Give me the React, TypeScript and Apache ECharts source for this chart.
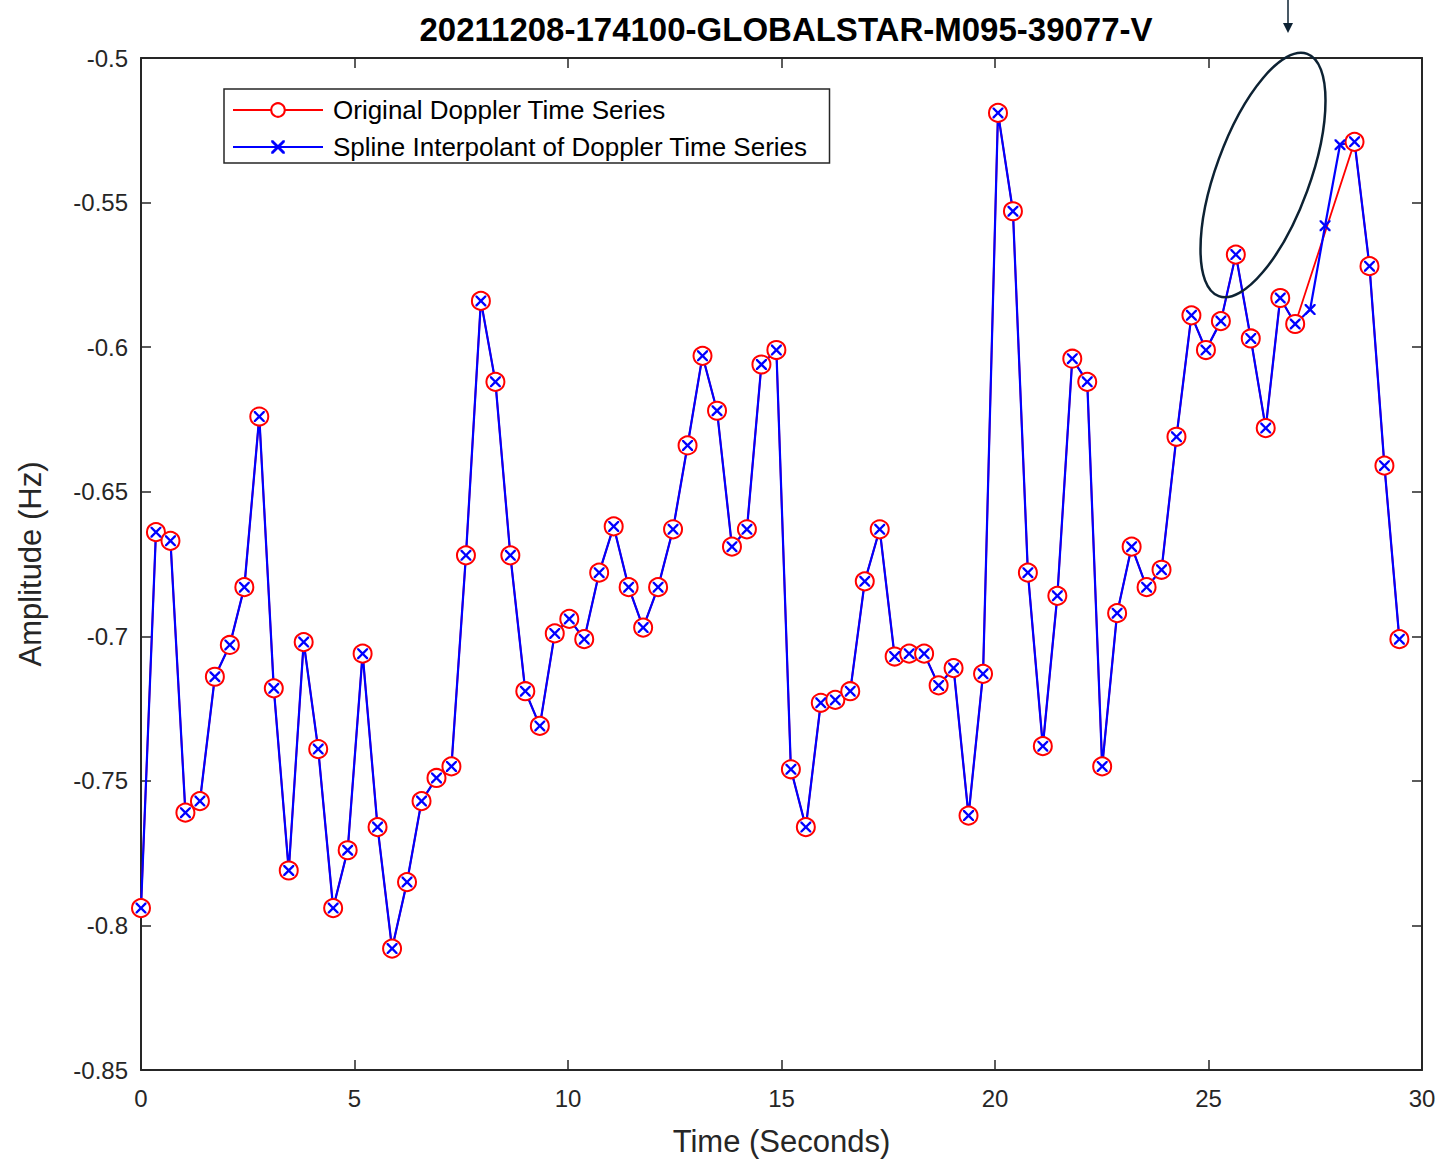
import React, { useEffect, useRef } from "react";
import * as echarts from "echarts";

const FONT = "'Liberation Sans', Arial, Helvetica, sans-serif";

const chartTitle = "20211208-174100-GLOBALSTAR-M095-39077-V";
const xAxisName = "Time (Seconds)";
const yAxisName = "Amplitude (Hz)";
const seriesNames = ["Original Doppler Time Series", "Spline Interpolant of Doppler Time Series"];

const times = [
  0, 0.35, 0.69, 1.04, 1.38, 1.73, 2.08, 2.42, 2.77, 3.11,
  3.46, 3.81, 4.15, 4.5, 4.84, 5.19, 5.54, 5.88, 6.23, 6.57,
  6.92, 7.27, 7.61, 7.96, 8.3, 8.65, 9.0, 9.34, 9.69, 10.03,
  10.38, 10.73, 11.07, 11.42, 11.76, 12.11, 12.46, 12.8, 13.15, 13.49,
  13.84, 14.19, 14.53, 14.88, 15.22, 15.57, 15.92, 16.26, 16.61, 16.95,
  17.3, 17.65, 17.99, 18.34, 18.68, 19.03, 19.38, 19.72, 20.07, 20.42,
  20.77, 21.12, 21.46, 21.81, 22.16, 22.51, 22.86, 23.2, 23.55, 23.9,
  24.25, 24.6, 24.94, 25.29, 25.64, 25.99, 26.34, 26.68, 27.03, 27.38,
  27.73, 28.08, 28.42, 28.77, 29.12, 29.47,
];

const splineValues = [
  -0.794, -0.664, -0.667, -0.761, -0.757, -0.714, -0.703, -0.683, -0.624, -0.718,
  -0.781, -0.702, -0.739, -0.794, -0.774, -0.706, -0.766, -0.808, -0.785, -0.757,
  -0.749, -0.745, -0.672, -0.584, -0.612, -0.672, -0.719, -0.731, -0.699, -0.694,
  -0.701, -0.678, -0.662, -0.683, -0.697, -0.683, -0.663, -0.634, -0.603, -0.622,
  -0.669, -0.663, -0.606, -0.601, -0.746, -0.766, -0.723, -0.722, -0.719, -0.681,
  -0.663, -0.707, -0.706, -0.706, -0.717, -0.711, -0.762, -0.713, -0.519, -0.553,
  -0.678, -0.738, -0.686, -0.604, -0.612, -0.745, -0.692, -0.669, -0.683, -0.677,
  -0.631, -0.589, -0.601, -0.591, -0.568, -0.597, -0.628, -0.583, -0.592, -0.587,
  -0.558, -0.53, -0.529, -0.572, -0.641, -0.701,
];

// null = sample missing from the original series (filled only by the spline)
const originalValues = [
  -0.794, -0.664, -0.667, -0.761, -0.757, -0.714, -0.703, -0.683, -0.624, -0.718,
  -0.781, -0.702, -0.739, -0.794, -0.774, -0.706, -0.766, -0.808, -0.785, -0.757,
  -0.749, -0.745, -0.672, -0.584, -0.612, -0.672, -0.719, -0.731, -0.699, -0.694,
  -0.701, -0.678, -0.662, -0.683, -0.697, -0.683, -0.663, -0.634, -0.603, -0.622,
  -0.669, -0.663, -0.606, -0.601, -0.746, -0.766, -0.723, -0.722, -0.719, -0.681,
  -0.663, -0.707, -0.706, -0.706, -0.717, -0.711, -0.762, -0.713, -0.519, -0.553,
  -0.678, -0.738, -0.686, -0.604, -0.612, -0.745, -0.692, -0.669, -0.683, -0.677,
  -0.631, -0.589, -0.601, -0.591, -0.568, -0.597, -0.628, -0.583, -0.592, null,
  null, null, -0.529, -0.572, -0.641, -0.701,
];

const xTicks = { min: 0, max: 30, interval: 5 };
const yTicks = { min: -0.85, max: -0.5, interval: 0.05 };

const CROSS =
  "path://M0,0 L3,0 L10,7 L17,0 L20,0 L20,3 L13,10 L20,17 L20,20 L17,20 L10,13 L3,20 L0,20 L0,17 L7,10 L0,3 Z";

export default function App() {
  const ref = useRef<HTMLDivElement>(null);

  useEffect(() => {
    document.body.style.margin = "0";
    if (!ref.current) return;
    const chart = echarts.init(ref.current, undefined, { renderer: "svg" });

    const axisColor = "#262626";
    const origData: [number, number][] = [];
    times.forEach((t, i) => {
      if (originalValues[i] !== null) origData.push([t, originalValues[i] as number]);
    });
    const splineData = times.map((t, i) => [t, splineValues[i]]);

    const baseAxis = (show: boolean) => ({
      axisLine: { show: true, onZero: false, lineStyle: { color: axisColor, width: 2 } },
      axisTick: { show: true, inside: true, length: 10, lineStyle: { color: axisColor, width: 1.5 } },
      axisLabel: { show, color: axisColor, fontSize: 24, fontFamily: FONT },
      splitLine: { show: false },
    });

    chart.setOption({
      animation: false,
      backgroundColor: "#ffffff",
      title: {
        text: chartTitle,
        left: 781,
        top: 8,
        textAlign: "center",
        textStyle: { fontSize: 33, fontWeight: "bold", color: "#000", fontFamily: FONT },
      },
      grid: { left: 141, right: 20, top: 58, bottom: 92, containLabel: false },
      legend: {
        left: 224,
        top: 89,
        orient: "vertical",
        data: seriesNames,
        itemWidth: 90,
        itemHeight: 17,
        itemGap: 11,
        padding: [8, 22, 3, 8],
        borderColor: axisColor,
        borderWidth: 1.5,
        backgroundColor: "#fff",
        textStyle: { fontSize: 26, lineHeight: 26, color: "#000", fontFamily: FONT, padding: [0, 0, 0, 5] },
      },
      xAxis: [
        {
          type: "value",
          position: "bottom",
          ...xTicks,
          ...baseAxis(true),
          axisLabel: { show: true, color: axisColor, fontSize: 24, fontFamily: FONT, margin: 16 },
          name: xAxisName,
          nameLocation: "middle",
          nameGap: 56,
          nameTextStyle: { fontSize: 31, color: axisColor, fontFamily: FONT },
        },
        { type: "value", position: "top", ...xTicks, ...baseAxis(false) },
      ],
      yAxis: [
        {
          type: "value",
          position: "left",
          ...yTicks,
          ...baseAxis(true),
          axisLabel: { show: true, color: axisColor, fontSize: 24, fontFamily: FONT, margin: 13 },
          name: yAxisName,
          nameLocation: "middle",
          nameGap: 95,
          nameTextStyle: { fontSize: 31, color: axisColor, fontFamily: FONT },
        },
        { type: "value", position: "right", ...yTicks, ...baseAxis(false) },
      ],
      series: [
        {
          name: seriesNames[0],
          type: "line",
          xAxisIndex: 0,
          yAxisIndex: 0,
          data: origData,
          symbol: "emptyCircle",
          symbolSize: 18,
          showAllSymbol: true,
          lineStyle: { color: "#ff0000", width: 1.8 },
          itemStyle: { color: "#ff0000", borderColor: "#ff0000", borderWidth: 1.5 },
        },
        {
          name: seriesNames[1],
          type: "line",
          xAxisIndex: 0,
          yAxisIndex: 0,
          data: splineData,
          symbol: CROSS,
          symbolSize: 11,
          showAllSymbol: true,
          lineStyle: { color: "#0000ff", width: 2.2 },
          itemStyle: { color: "#0000ff" },
        },
      ],
      graphic: [
        {
          type: "ellipse",
          shape: { cx: 0, cy: 0, rx: 47, ry: 129 },
          x: 1263,
          y: 175,
          rotation: -0.35,
          style: { fill: "none", stroke: "#0d2233", lineWidth: 2.5 },
          z: 100,
        },
        {
          type: "line",
          shape: { x1: 1288, y1: 0, x2: 1288, y2: 26 },
          style: { stroke: "#0d2233", lineWidth: 1.5 },
          z: 100,
        },
        {
          type: "polygon",
          shape: { points: [[1283, 23], [1293, 23], [1288, 33]] },
          style: { fill: "#0d2233" },
          z: 100,
        },
      ],
    });

    return () => chart.dispose();
  }, []);

  return <div ref={ref} style={{ width: 1442, height: 1162 }} />;
}
